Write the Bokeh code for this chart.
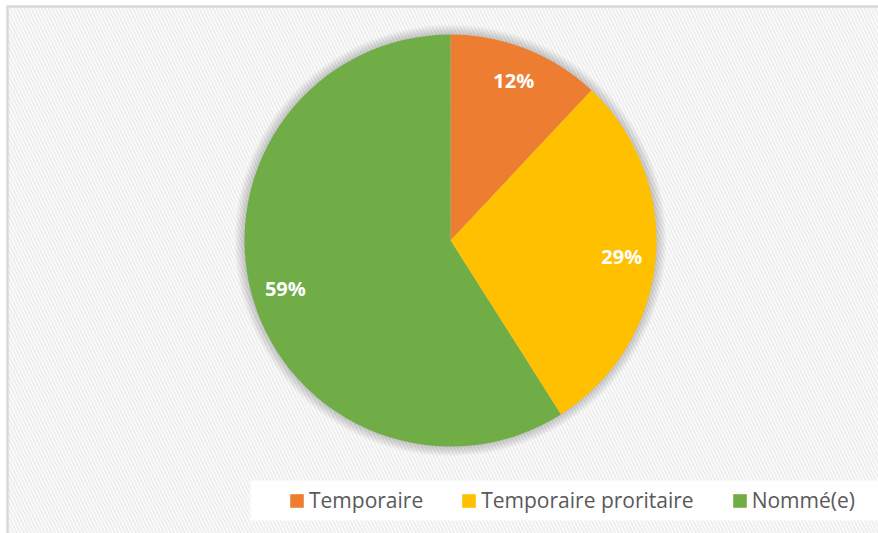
import math
from bokeh.plotting import figure
from bokeh.models import Range1d, ColumnDataSource, Legend, LegendItem
from bokeh.core.properties import value
from bokeh.embed import file_html
from bokeh.resources import INLINE

# ---- data ----
categories = ["Temporaire", "Temporaire proritaire", "Nommé(e)"]
shares = [12, 29, 59]
colors = ["#ED7D31", "#FFC000", "#70AD47"]
pct_labels = [f"{v}%" for v in shares]

# ---- layout constants (pixels) ----
W, H = 878, 533
CX, CY = 450, 293      # pie centre
R = 206                 # pie radius
LABEL_R = 172

p = figure(width=W, height=H, x_range=Range1d(0, W), y_range=Range1d(0, H),
           output_backend="svg", toolbar_location=None, min_border=0,
           x_axis_type=None, y_axis_type=None)
p.grid.visible = False
p.outline_line_color = None
p.background_fill_color = "white"
p.border_fill_color = "white"

# hatched chart-area background
p.quad(left=[7], right=[W], bottom=[0], top=[527], fill_color="white", line_color=None,
       hatch_pattern="\\", hatch_color="#eeeeee", hatch_weight=2, hatch_scale=7)

# chart border (top & left visible in reference)
p.segment(x0=[6], y0=[527], x1=[W], y1=[527], line_color="#d9d9d9", line_width=2.5)
p.segment(x0=[7], y0=[0], x1=[7], y1=[527], line_color="#d9d9d9", line_width=2.5)

# soft shadow around the pie
for k in range(1, 11):
    p.circle(x=[CX], y=[CY], radius=R + k, fill_color="black", fill_alpha=0.018, line_color=None)

# wedges (start at 12 o'clock, clockwise)
total = float(sum(shares))
starts, ends, mids = [], [], []
cum = 0.0
for v in shares:
    a0 = math.pi / 2 - 2 * math.pi * cum / total
    a1 = math.pi / 2 - 2 * math.pi * (cum + v) / total
    starts.append(a0)
    ends.append(a1)
    mids.append((a0 + a1) / 2)
    cum += v

src = ColumnDataSource(dict(cat=categories, val=shares, color=colors,
                            start=starts, end=ends))
wr = p.wedge(x=CX, y=CY, radius=R, start_angle="start", end_angle="end",
             direction="clock", fill_color="color", line_color=None, source=src)

lsrc = ColumnDataSource(dict(
    x=[CX + LABEL_R * math.cos(m) for m in mids],
    y=[CY + LABEL_R * math.sin(m) for m in mids],
    t=pct_labels))
p.text(x="x", y="y", text="t", source=lsrc, text_color="white",
       text_font=value("Open Sans"), text_font_style="bold", text_font_size="20px",
       text_align="center", text_baseline="middle")

# legend backdrop
p.quad(left=[250], right=[W], bottom=[13], top=[53], fill_color="white",
       fill_alpha=0.92, line_color=None)

legend = Legend(items=[LegendItem(label=c, renderers=[wr], index=i)
                       for i, c in enumerate(categories)],
                orientation="horizontal", location=(288, 19),
                label_text_font="Open Sans", label_text_font_size="21px",
                label_text_color="#595959", glyph_width=17, glyph_height=17,
                label_standoff=4, spacing=37, padding=0, margin=0,
                border_line_color=None, background_fill_alpha=0)
p.add_layout(legend, "center")

open("out.html", "w").write(file_html(p, INLINE))
